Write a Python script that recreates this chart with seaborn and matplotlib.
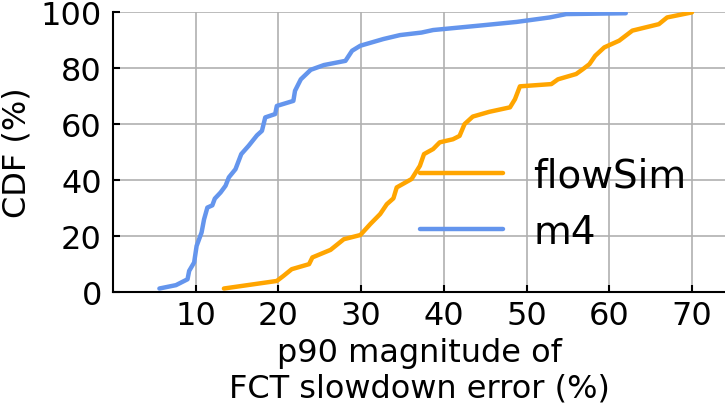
import pandas as pd
import matplotlib
matplotlib.use("Agg")
import matplotlib.pyplot as plt
import seaborn as sns

# CDF points (x = p90 error %, y = CDF %)
m4_err = [5.6, 7.6, 9.0, 9.2, 9.8, 10.1, 10.7, 11.0, 11.4, 12.0, 12.3, 13.0, 13.6, 14.0,
          14.8, 15.5, 16.4, 17.4, 18.0, 18.4, 19.6, 19.8, 21.8, 22.0, 22.7, 23.9, 25.5,
          28.1, 28.9, 29.9, 32.7, 34.7, 37.3, 38.7, 44.7, 48.8, 52.8, 54.8, 62.0]
m4_cdf = [1.3, 2.5, 4.6, 7.6, 10.6, 16.5, 21.3, 26.0, 30.2, 31.0, 33.4, 35.6, 38.0, 41.0,
          43.9, 49.3, 52.3, 56.0, 57.6, 62.4, 63.6, 66.5, 68.3, 71.9, 76.0, 79.4, 81.1,
          82.6, 86.2, 88.0, 90.4, 91.8, 92.7, 93.6, 95.3, 96.5, 98.1, 99.3, 99.6]

flowsim_err = [13.4, 19.8, 20.6, 21.6, 23.7, 24.1, 26.3, 27.9, 29.9, 31.1, 32.3, 33.1, 33.9,
               34.3, 36.1, 37.1, 37.6, 38.7, 39.5, 41.1, 41.9, 42.5, 43.5, 45.5, 48.0, 48.6,
               49.2, 53.0, 53.8, 56.0, 56.8, 57.6, 58.3, 59.4, 61.2, 62.8, 66.0, 67.0, 70.0]
flowsim_cdf = [1.3, 4.0, 5.8, 8.2, 10.0, 12.4, 15.1, 18.9, 20.4, 24.3, 27.9, 31.4, 33.5,
               37.4, 40.4, 45.1, 49.3, 51.1, 53.5, 54.6, 55.8, 60.0, 62.7, 64.4, 66.0, 68.9,
               73.5, 74.3, 76.0, 77.9, 79.6, 81.4, 84.4, 87.4, 89.8, 93.4, 95.7, 98.1, 99.9]

df = pd.concat([
    pd.DataFrame({"err": flowsim_err, "cdf": flowsim_cdf, "method": "flowSim"}),
    pd.DataFrame({"err": m4_err, "cdf": m4_cdf, "method": "m4"}),
])

sns.set_style("ticks")
plt.rcParams["font.family"] = ["DejaVu Sans"]
plt.rcParams["text.color"] = "black"
plt.rcParams["axes.labelcolor"] = "black"

fig = plt.figure(figsize=(7.25, 4.1), dpi=100)
ax = fig.add_axes([0.156, 0.285, 0.844, 0.683])

sns.lineplot(data=df, x="err", y="cdf", hue="method", sort=False, estimator=None,
             palette={"flowSim": "#FFA500", "m4": "#6495ED"}, linewidth=3.2, ax=ax)

ax.set_xlim(0, 74)
ax.set_ylim(0, 100)
ax.set_xticks([10, 20, 30, 40, 50, 60, 70])
ax.set_yticks([0, 20, 40, 60, 80, 100])
ax.grid(True, color="#b0b0b0", linewidth=1.2)
ax.set_axisbelow(True)
ax.tick_params(direction="in", length=5, width=1.5, labelsize=23, colors="black")
ax.tick_params(axis="y", pad=8)
ax.tick_params(axis="x", pad=6)
for side in ["top", "right"]:
    ax.spines[side].set_visible(False)
for side in ["left", "bottom"]:
    ax.spines[side].set_linewidth(1.5)
    ax.spines[side].set_color("black")

ax.set_xlabel("p90 magnitude of\nFCT slowdown error (%)", fontsize=23, labelpad=4)
ax.set_ylabel("CDF (%)", fontsize=23, labelpad=6)

leg = ax.legend(loc="center left", bbox_to_anchor=(0.502, 0.316), frameon=False,
                fontsize=28, handlelength=2.13, handletextpad=0.77, labelspacing=0.48,
                borderpad=0, borderaxespad=0)
for line in leg.get_lines():
    line.set_linewidth(3.2)

fig.savefig("out.png", dpi=100)
